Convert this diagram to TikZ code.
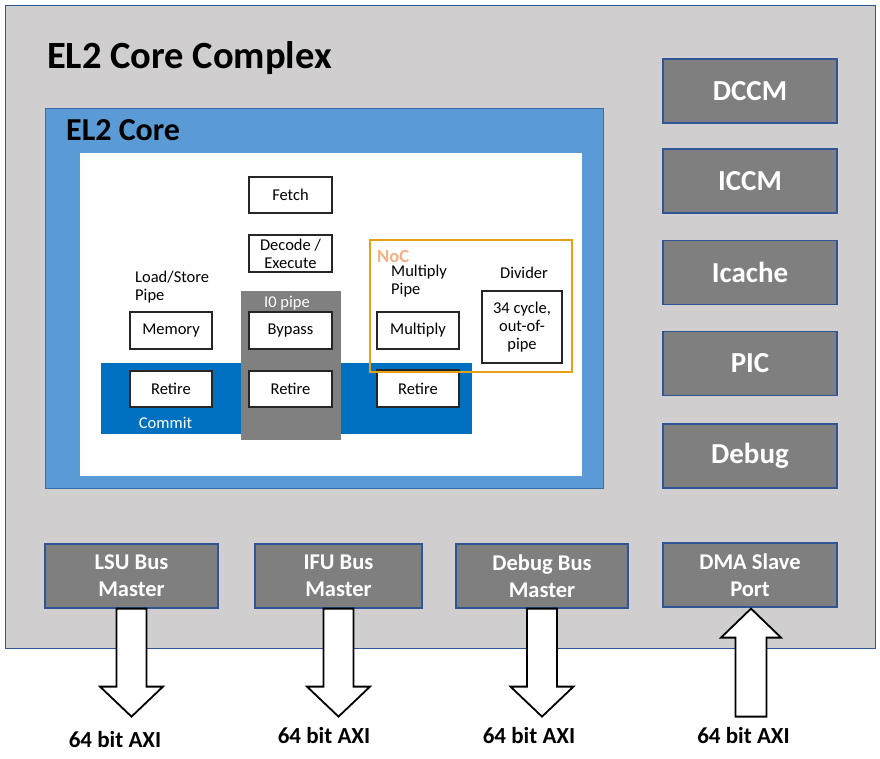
\documentclass[tikz,border=0pt]{standalone}
\usepackage{fontspec}
\setmainfont{Carlito}
\usetikzlibrary{calc}
\definecolor{cxgray}{HTML}{D0CECE}
\definecolor{cxline}{HTML}{2F5597}
\definecolor{coreblue}{HTML}{5B9BD5}
\definecolor{coreline}{HTML}{3C6CA8}
\definecolor{darkbox}{HTML}{7F7F7F}
\definecolor{commitblue}{HTML}{0070C0}
\definecolor{pipegray}{HTML}{808080}
\definecolor{nocline}{HTML}{E6A116}
\definecolor{noctext}{HTML}{F4B183}
\tikzset{
  wbox/.style={draw=black!85, fill=white, line width=1.1pt, inner sep=1pt,
    font=\fontsize{16.5}{18}\selectfont, align=center},
  gbox/.style={draw=cxline, fill=darkbox, line width=1.2pt, inner sep=1pt,
    text=white, font=\bfseries\fontsize{29}{33}\selectfont,
    minimum width=174, minimum height=64},
  busbox/.style={draw=cxline, fill=darkbox, line width=1.2pt, inner sep=1pt,
    text=white, font=\bfseries\fontsize{22.5}{27}\selectfont, align=center,
    minimum height=64},
  smalltxt/.style={inner sep=0pt, font=\fontsize{16.5}{18}\selectfont, align=left},
  axitxt/.style={inner sep=0pt, font=\bfseries\fontsize{23}{26}\selectfont, anchor=base},
  fatarrow/.style={draw=black, fill=white, line width=1.8pt, line join=miter},
}
\newcommand\FatDown[1]{%
  \draw[fatarrow] ($(#1.south)+(-15,0)$) -- ($(#1.south)+(-15,78)$)
    -- ($(#1.south)+(-31.5,78)$) -- ($(#1.south)+(0,108)$)
    -- ($(#1.south)+(31.5,78)$) -- ($(#1.south)+(15,78)$)
    -- ($(#1.south)+(15,0)$) -- cycle;}
\begin{document}
\begin{tikzpicture}[x=1pt,y=-1pt]
\useasboundingbox (0,0) rectangle (880,758);
% outer complex
\node[draw=cxline, fill=cxgray, line width=1.3pt, anchor=north west,
  minimum width=870, minimum height=643, inner sep=0pt] (complex) at (5,5) {};
% title
\node[inner sep=0pt, anchor=base west,
  font=\bfseries\fontsize{38.5}{44}\selectfont] (title) at (47,68) {EL2 Core Complex};
% core
\node[draw=coreline, fill=coreblue, line width=1.3pt, anchor=north west,
  minimum width=558, minimum height=380, inner sep=0pt] (core) at (45,108) {};
\node[inner sep=0pt, anchor=base west, font=\bfseries\fontsize{32}{38}\selectfont]
  (coretitle) at (66,140) {EL2 Core};
\node[fill=white, anchor=north west, minimum width=502, minimum height=323,
  inner sep=0pt] (inner) at (80,153) {};
% commit band
\node[fill=commitblue, anchor=north west, minimum width=371, minimum height=71,
  inner sep=0pt] (commit) at (101,363) {};
\node[smalltxt, text=white, anchor=base] (committxt) at (165.5,428) {Commit};
% I0 pipe
\node[fill=pipegray, anchor=north west, minimum width=100, minimum height=149,
  inner sep=0pt] (iopipe) at (241,291) {};
\node[smalltxt, text=white, anchor=base] (iotxt) at (287,307) {I0 pipe};
% pipeline boxes
\node[wbox, minimum width=83, minimum height=36] (fetch) at (290.5,195) {Fetch};
\node[wbox, minimum width=83, minimum height=37] (decode) at (290.5,253.5) {Decode /\\Execute};
\node[wbox, minimum width=83, minimum height=37] (bypass) at (290.5,330.5) {Bypass};
\node[wbox, minimum width=83, minimum height=36] (retirec) at (290.5,389) {Retire};
\node[wbox, minimum width=82, minimum height=37] (memory) at (171,330.5) {Memory};
\node[wbox, minimum width=82, minimum height=36] (retirel) at (171,389) {Retire};
\node[smalltxt, anchor=north west] (lstxt) at (135,271) {Load/Store\\Pipe};
\node[wbox, minimum width=82, minimum height=37] (retirer) at (418,388.5) {Retire};
% NoC
\node[draw=nocline, line width=1.6pt, anchor=north west, minimum width=202,
  minimum height=132, inner sep=0pt] (noc) at (369,239) {};
\node[inner sep=0pt, anchor=base west, text=noctext,
  font=\bfseries\fontsize{18.5}{21}\selectfont] (noctxt) at (377,262) {NoC};
\node[smalltxt, anchor=north west] (multxt) at (391,265) {Multiply\\Pipe};
\node[wbox, minimum width=82, minimum height=37] (multiply) at (418,330.5) {Multiply};
\node[smalltxt, anchor=base] (divtxt) at (524,278) {Divider};
\node[wbox, minimum width=80, minimum height=72] (divider) at (522,327) {34 cycle,\\out-of-\\pipe};
% right column
\node[gbox] (dccm) at (750,91) {DCCM};
\node[gbox] (iccm) at (750,181) {ICCM};
\node[gbox] (icache) at (750,272.5) {Icache};
\node[gbox] (pic) at (750,363.5) {PIC};
\node[gbox] (debug) at (750,456) {Debug};
% bus boxes
\node[busbox, minimum width=173] (lsu) at (131.5,576) {LSU Bus\\Master};
\node[busbox, minimum width=167] (ifu) at (338.5,576) {IFU Bus\\Master};
\node[busbox, minimum width=172] (dbg) at (542,576) {Debug Bus\\Master};
\node[busbox, minimum width=174] (dma) at (750,575) {DMA Slave\\Port};
% arrows
\FatDown{lsu}
\FatDown{ifu}
\FatDown{dbg}
\draw[fatarrow] ($(dma.south)+(1,1)$) -- ($(dma.south)+(31,30)$)
  -- ($(dma.south)+(16.5,30)$) -- ($(dma.south)+(16.5,109)$)
  -- ($(dma.south)+(-14.5,109)$) -- ($(dma.south)+(-14.5,30)$)
  -- ($(dma.south)+(-29,30)$) -- cycle;
% labels
\node[axitxt] (axilsu) at (115,747) {64 bit AXI};
\node[axitxt] (axiifu) at (324,743) {64 bit AXI};
\node[axitxt] (axidbg) at (529,743) {64 bit AXI};
\node[axitxt] (axidma) at (743.5,743) {64 bit AXI};
\end{tikzpicture}
\end{document}
